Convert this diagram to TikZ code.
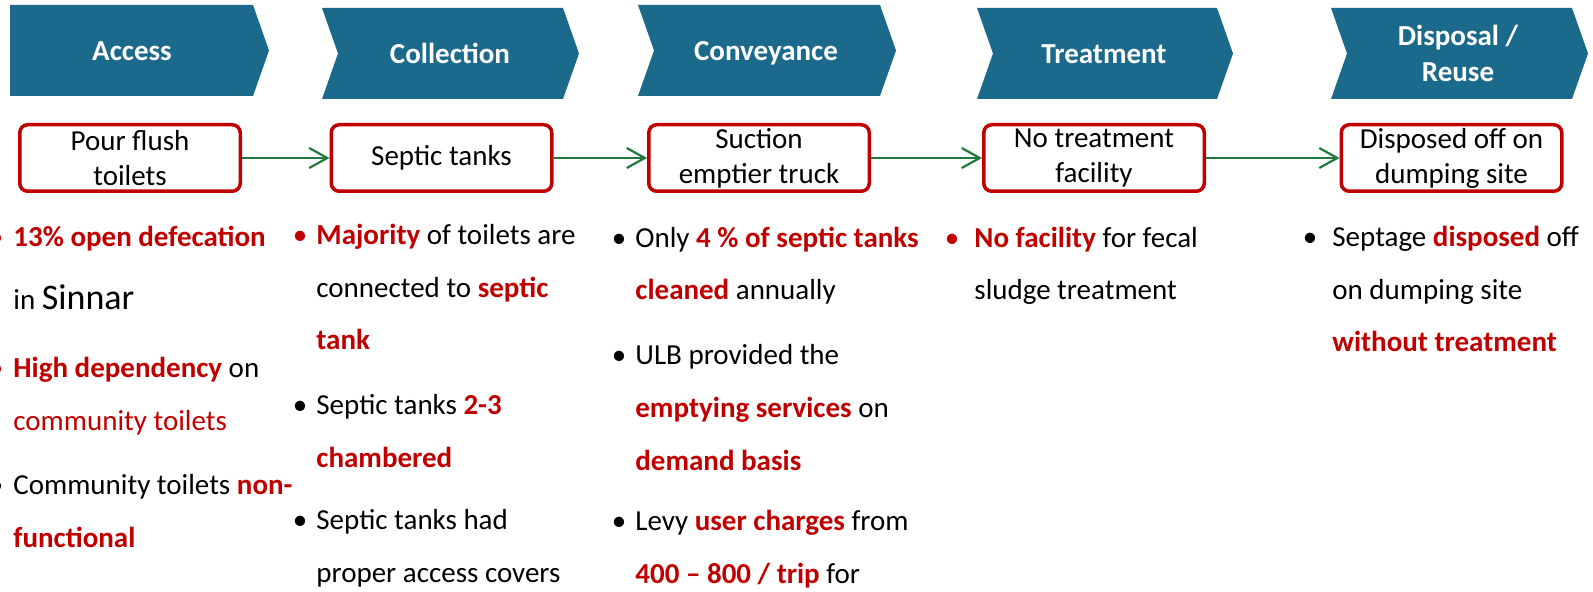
\documentclass[tikz,border=0pt]{standalone}
\usepackage{fontspec}
\setmainfont{Carlito}
\usetikzlibrary{arrows.meta}
\definecolor{chevblue}{RGB}{27,106,140}
\definecolor{darkred}{RGB}{192,0,0}
\definecolor{flowgreen}{RGB}{31,122,61}
\newcommand{\notefont}{\fontsize{14.5}{26.25}\selectfont}
\newcommand{\boxfont}{\fontsize{14.5}{17.5}\selectfont}
\newcommand{\headfont}{\fontsize{14.5}{18}\selectfont\bfseries}
\newcommand{\redbf}[1]{\textbf{\color{darkred}#1}}
\newcommand{\blt}[2][black]{\llap{\textcolor{#1}{\textbullet}\hspace{#2}}}
\begin{document}
\begin{tikzpicture}[x=0.5pt, y=-0.5pt,
    chev/.style={fill=chevblue},
    head/.style={text=white, font=\headfont, align=center, inner sep=0pt, anchor=base},
    stage/.style={draw=darkred, line width=1.75pt, rounded corners=4pt, minimum width=110.25pt,
        minimum height=33.25pt, align=center, inner sep=0pt, font=\boxfont},
    flow/.style={draw=flowgreen, line width=1.1pt, -{Straight Barb[length=9pt,width=10pt]}},
    note/.style={anchor=base west, inner sep=0pt, align=left, font=\notefont}]
    \useasboundingbox (0,0) rectangle (1593,592);
    \fill[chev] (10,5) -- (253,5) -- (269,50.5) -- (253,96) -- (10,96) -- cycle;
    \fill[chev] (322,8) -- (563,8) -- (579,53.5) -- (563,99) -- (322,99) -- (338,53.5) -- cycle;
    \fill[chev] (638,5) -- (880,5) -- (896,50.5) -- (880,96) -- (638,96) -- (654,50.5) -- cycle;
    \fill[chev] (977,8) -- (1217,8) -- (1233,53.5) -- (1217,99) -- (977,99) -- (993,53.5) -- cycle;
    \fill[chev] (1331,8) -- (1572,8) -- (1588,53.5) -- (1572,99) -- (1331,99) -- (1347,53.5) -- cycle;
    \node[head] (hAccess) at (132,61) {Access};
    \node[head] (hCollect) at (450,64) {Collection};
    \node[head] (hConvey) at (766,61) {Conveyance};
    \node[head] (hTreat) at (1104,64) {Treatment};
    \node[head] (hDispose) at (1458,82) {Disposal /\\Reuse};

    \node[stage] (pour) at (130,158) {Pour flush\\toilets};
    \node[stage] (tanks) at (441.5,158) {Septic tanks};
    \node[stage] (truck) at (759,158) {Suction\\emptier truck};
    \node[stage] (notreat) at (1094,158) {No treatment\\facility};
    \node[stage] (dump) at (1451.5,158) {Disposed off on\\dumping site};
    \draw[flow] (pour.east) -- (tanks.west);
    \draw[flow] (tanks.east) -- (truck.west);
    \draw[flow] (truck.east) -- (notreat.west);
    \draw[flow] (notreat.east) -- (dump.west);

    \node[note] (a1) at (13,310) {\blt[darkred]{5pt}\redbf{13\% open defecation}\\[5.25pt]
        in {\fontsize{18}{26.25}\selectfont Sinnar}};
    \node[note] (a2) at (13,430) {\blt[darkred]{5pt}\redbf{High dependency} on\\
        \textcolor{darkred}{community toilets}};
    \node[note] (a3) at (13,547) {\blt{5pt}Community toilets \redbf{non-}\\ \redbf{functional}};

    \node[note] (c1) at (316,350) {\blt[darkred]{4.5pt}\redbf{Majority} of toilets are\\
        connected to \redbf{septic}\\ \redbf{tank}};
    \node[note] (c2) at (316,467) {\blt{4.5pt}Septic tanks \redbf{2-3}\\ \redbf{chambered}};
    \node[note] (c3) at (316,582) {\blt{4.5pt}Septic tanks had\\ proper access covers};

    \node[note] (v1) at (635,300) {\blt{4.5pt}Only \redbf{4 \% of septic tanks}\\ \redbf{cleaned} annually};
    \node[note] (v2) at (635,470) {\blt{4.5pt}ULB provided the\\ \redbf{emptying services} on\\
        \redbf{demand basis}};
    \node[note] (v3) at (635,583) {\blt{4.5pt}Levy \redbf{user charges} from\\ \redbf{400 -- 800 / trip} for};

    \node[note] (t1) at (974,300) {\blt[darkred]{7.5pt}\redbf{No facility} for fecal\\ sludge treatment};

    \node[note] (d1) at (1332,352) {\blt{7.5pt}Septage \redbf{disposed} off\\ on dumping site\\
        \redbf{without treatment}};
\end{tikzpicture}
\end{document}
